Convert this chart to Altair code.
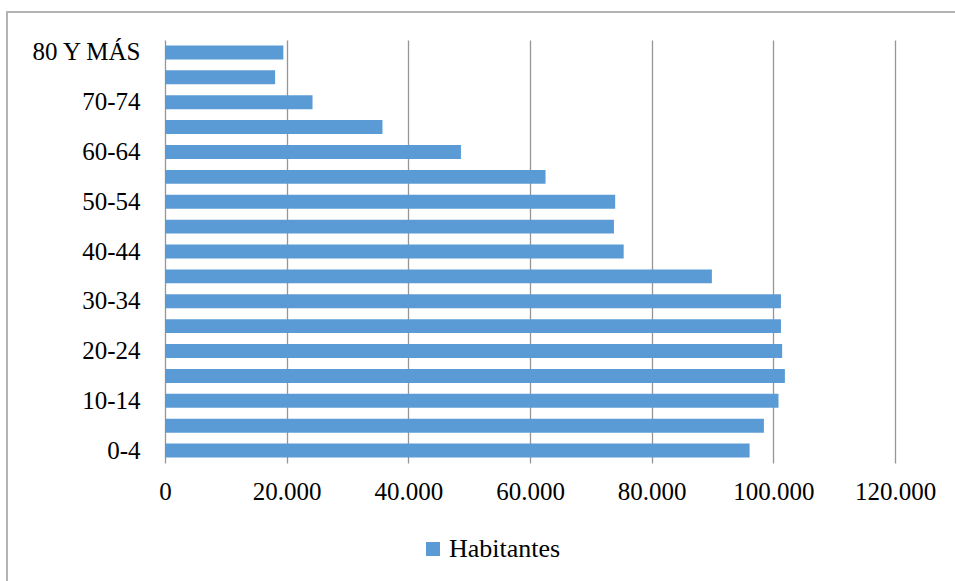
import altair as alt
import pandas as pd

categorias = ["0-4", "5-9", "10-14", "15-19", "20-24", "25-29", "30-34", "35-39",
              "40-44", "45-49", "50-54", "55-59", "60-64", "65-69", "70-74",
              "75-79", "80 Y MÁS"]
habitantes = [96100, 98450, 100850, 101900, 101450, 101250, 101250, 89900,
              75400, 73800, 74000, 62550, 48650, 35750, 24250, 18100, 19450]
etiquetas_y = ["0-4", "10-14", "20-24", "30-34", "40-44", "50-54", "60-64",
               "70-74", "80 Y MÁS"]
ticks_x = [0, 20000, 40000, 60000, 80000, 100000, 120000]
serie = "Habitantes"

df = pd.DataFrame({"grupo": categorias, "valor": habitantes, "serie": serie})

FONT = "'Liberation Serif', 'Times New Roman', 'DejaVu Serif', serif"
BLUE = "#5b9bd5"

bars = alt.Chart(df).mark_bar(color=BLUE).encode(
    y=alt.Y(
        "grupo:N",
        sort=list(reversed(categorias)),
        scale=alt.Scale(paddingInner=0.44, paddingOuter=0.22),
        axis=alt.Axis(
            title=None, values=etiquetas_y, domain=False, ticks=False, tickSize=0,
            labelPadding=25, labelFont=FONT, labelFontSize=25, labelColor="#000000",
            grid=False, labelOverlap=False,
        ),
    ),
    x=alt.X(
        "valor:Q",
        scale=alt.Scale(domain=[0, 120000], nice=False),
        axis=alt.Axis(
            title=None, values=ticks_x, domain=False, ticks=False, tickSize=0,
            labelPadding=16, labelFont=FONT, labelFontSize=25, labelColor="#000000",
            labelExpr="replace(format(datum.value, ','), ',', '.')",
            labelOverlap=False, labelFlush=False,
            grid=True, gridColor="#969696", gridWidth=1.3,
        ),
    ),
    color=alt.Color(
        "serie:N",
        scale=alt.Scale(domain=[serie], range=[BLUE]),
        legend=alt.Legend(
            title=None, orient="none", legendX=255, legendY=496,
            symbolType="square", symbolSize=196, symbolStrokeWidth=0,
            labelFont=FONT, labelFontSize=26, labelColor="#000000",
            labelOffset=3,
        ),
    ),
)

frame = alt.Chart(df).mark_rect(
    fill=None, stroke="#b4b4b4", strokeWidth=1.2, clip=False
).encode(
    x=alt.value(-158), x2=alt.value(800),
    y=alt.value(-28), y2=alt.value(560),
)

chart = alt.layer(frame, bars).properties(
    width=730, height=423,
    autosize=alt.AutoSizeParams(type="none"),
    padding={"left": 165, "top": 40, "right": 60, "bottom": 118},
).configure(background="#ffffff", font=FONT).configure_view(stroke=None)

chart.save("out.html", embed_options={"renderer": "svg", "actions": False})
